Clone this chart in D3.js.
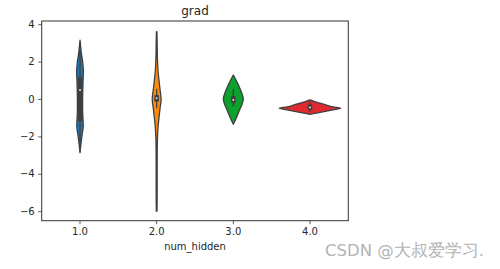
<!DOCTYPE html>
<html>
<head>
    <meta charset="utf-8">
    <title>grad violin</title>
    <script src="https://d3js.org/d3.v7.min.js"></script>
    <style>
        body { margin: 0; background: #fff; }
        text { font-family: "DejaVu Sans", sans-serif; }
    </style>
</head>
<body>
<div id="chart"></div>
<script type="text/javascript">

    // categories and colours
    let categories = ["1.0", "2.0", "3.0", "4.0"];
    let colors = ["#1f77b4", "#ff8c0e", "#0ca02c", "#df2a2f"];
    let yTicks = [-6, -4, -2, 0, 2, 4];

    // density profile of each violin (value grid / relative density)
    let grid1 = [-2.87, -2.4, -1.9, -1.5, -1.2, -0.6, 0, 0.5, 1.0, 1.5, 2.0, 2.5, 3.15];
    let dens1 = [0, 0.03, 0.07, 0.105, 0.1, 0.085, 0.085, 0.09, 0.1, 0.11, 0.085, 0.04, 0];
    let grid2 = [-6.0, -5, -4, -3, -2.5, -2, -1.5, -1, -0.5, 0, 0.5, 1, 1.5, 2, 2.5, 3, 3.6];
    let dens2 = [0.012, 0.016, 0.016, 0.018, 0.02, 0.028, 0.045, 0.075, 0.11, 0.145, 0.11, 0.075, 0.045, 0.028, 0.02, 0.016, 0.008];
    let grid3 = [-1.35, -1.0, -0.6, -0.3, 0, 0.3, 0.66, 1.0, 1.28];
    let dens3 = [0, 0.1, 0.2, 0.28, 0.326, 0.28, 0.19, 0.09, 0];
    let grid4 = [-0.82, -0.74, -0.66, -0.58, -0.5, -0.42, -0.32, -0.22, -0.13, -0.05];
    let dens4 = [0, 0.25, 0.5, 0.75, 1.0, 0.74, 0.52, 0.32, 0.13, 0];

    // inner box stats
    let medians = [0.48, 0.05, -0.05, -0.45];
    let q1 = [-1.2, -0.14, -0.23, -0.58];
    let q3 = [1.18, 0.21, 0.16, -0.3];
    let whiskLo = [-2.8, -0.5, -0.4, -0.7];
    let whiskHi = [3.05, 0.55, 0.53, -0.15];

    let grids = [grid1, grid2, grid3, grid4];
    let densities = [dens1, dens2, dens3, dens4];

    let margin = {top: 21, right: 151.7, bottom: 48.3, left: 41.7};
    let w = 500 - margin.left - margin.right;
    let h = 269 - margin.top - margin.bottom;

    let svg = d3.select("#chart")
        .append("svg")
            .attr("width", 500)
            .attr("height", 269)
        .append("g")
            .attr("transform", "translate(" + margin.left + "," + margin.top + ")");

    let xScale = d3.scaleBand()
        .domain(categories)
        .range([0, w])
        .padding(0);

    let yScale = d3.scaleLinear()
        .domain([-6.51, 4.17])
        .range([h, 0]);

    // half width of violin: density 1 -> 40% of band
    let wScale = d3.scaleLinear()
        .domain([0, 1])
        .range([0, xScale.bandwidth() * 0.4]);

    // violins
    categories.forEach(function(c, i) {
        let cx = xScale(c) + xScale.bandwidth() / 2;
        let pts = grids[i].map(function(v, j) { return [v, densities[i][j]]; });
        let area = d3.area()
            .y(function(d) { return yScale(d[0]); })
            .x0(function(d) { return cx - wScale(d[1]); })
            .x1(function(d) { return cx + wScale(d[1]); })
            .curve(d3.curveCatmullRom);

        svg.append("path")
            .datum(pts)
            .attr("d", area)
            .attr("fill", colors[i])
            .attr("stroke", "#3f3f3f")
            .attr("stroke-width", 1.3)
            .attr("stroke-linejoin", "round");

        // whisker
        svg.append("line")
            .attr("x1", cx).attr("x2", cx)
            .attr("y1", yScale(whiskLo[i]))
            .attr("y2", yScale(whiskHi[i]))
            .attr("stroke", "#3f3f3f")
            .attr("stroke-width", 1.3);

        // quartile box
        svg.append("line")
            .attr("x1", cx).attr("x2", cx)
            .attr("y1", yScale(q1[i]))
            .attr("y2", yScale(q3[i]))
            .attr("stroke", "#3f3f3f")
            .attr("stroke-width", 4.5);

        // median
        svg.append("circle")
            .attr("cx", cx)
            .attr("cy", yScale(medians[i]))
            .attr("r", 0.9)
            .attr("fill", "#fff");
    });

    // axes
    let xAxis = d3.axisBottom(xScale).tickSize(3.5).tickPadding(3.5);
    let yAxis = d3.axisLeft(yScale)
        .tickValues(yTicks)
        .tickSize(3.5)
        .tickPadding(3.5)
        .tickFormat(function(d) { return d < 0 ? "\u2212" + Math.abs(d) : d; });

    let gx = svg.append("g")
        .attr("transform", "translate(0," + h + ")")
        .call(xAxis);
    let gy = svg.append("g").call(yAxis);

    [gx, gy].forEach(function(g) {
        g.select(".domain").remove();
        g.selectAll("line").attr("stroke", "#333").attr("stroke-width", 0.8);
        g.selectAll("text")
            .attr("font-family", "DejaVu Sans, sans-serif")
            .attr("font-size", "10px")
            .attr("fill", "#262626");
    });

    // frame
    svg.append("rect")
        .attr("x", 0).attr("y", 0)
        .attr("width", w).attr("height", h)
        .attr("fill", "none")
        .attr("stroke", "#333")
        .attr("stroke-width", 1);

    // title and x label
    svg.append("text")
        .attr("x", w / 2)
        .attr("y", -6)
        .attr("text-anchor", "middle")
        .attr("font-size", "12px")
        .attr("fill", "#262626")
        .text("grad");

    svg.append("text")
        .attr("x", w / 2)
        .attr("y", h + 29)
        .attr("text-anchor", "middle")
        .attr("font-size", "10px")
        .attr("fill", "#262626")
        .text("num_hidden");

    // watermark
    d3.select("svg").append("text")
        .attr("x", 325)
        .attr("y", 256)
        .attr("font-family", "Noto Sans CJK SC, sans-serif")
        .attr("font-size", "16.5px")
        .attr("fill", "#b4b4b4")
        .text("CSDN @大叔爱学习.");

</script>
</body>
</html>
